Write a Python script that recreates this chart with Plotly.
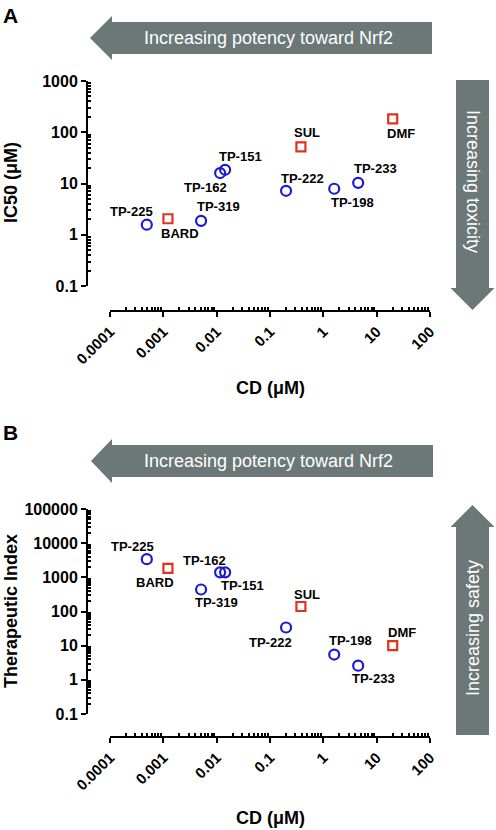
import math
import plotly.graph_objects as go

# ---------------- data ----------------
compounds_tp = ["TP-225", "TP-319", "TP-162", "TP-151", "TP-222", "TP-198", "TP-233"]
cd_tp = [0.00049, 0.0051, 0.0116, 0.0144, 0.20, 1.6, 4.5]
ic50_tp = [1.57, 1.87, 16.0, 18.5, 7.2, 7.9, 10.3]
ti_tp = [3400, 440, 1400, 1400, 34, 5.5, 2.6]

compounds_ref = ["BARD", "SUL", "DMF"]
cd_ref = [0.00122, 0.38, 20.0]
ic50_ref = [2.05, 52.0, 182.0]
ti_ref = [1830, 140, 10.0]

x_tickvals = [0.0001, 0.001, 0.01, 0.1, 1, 10, 100]
x_ticktext = ["0.0001", "0.001", "0.01", "0.1", "1", "10", "100"]
ya_tickvals = [0.1, 1, 10, 100, 1000]
ya_ticktext = ["0.1", "1", "10", "100", "1000"]
yb_tickvals = [0.1, 1, 10, 100, 1000, 10000, 100000]
yb_ticktext = ["0.1", "1", "10", "100", "1000", "10000", "100000"]

# label offsets (pixels) for each point label: (xshift, yshift)
offA_tp = [(-15, 13), (17, 14), (-15, -14), (15, 13), (16, 12), (18, -14), (17, 14)]
offA_ref = [(12, -15), (6, 14), (8, -15)]
offB_tp = [(-14, 13), (15, -13), (-16, 12), (17, -13), (-16, -15), (16, 14), (15, -13)]
offB_ref = [(-13, -14), (6, 12), (9, 13)]

# ---------------- style ----------------
W, H = 496, 830
FONT = "Liberation Sans, Arial, Helvetica, sans-serif"
BLUE = "#1b1bd2"
RED = "#e2311f"
GREY = "#6b7877"


def px(x):
    return x / W


def py(y):
    return 1 - y / H


def minor_vals(lo, hi):
    vals = []
    for e in range(lo, hi):
        for m in range(2, 10):
            vals.append(m * 10 ** e)
    return vals


fig = go.Figure()

marker_c = dict(symbol="circle-open", size=10, color=BLUE, line=dict(width=2.2, color=BLUE))
marker_s = dict(symbol="square-open", size=9, color=RED, line=dict(width=2.2, color=RED))

fig.add_trace(go.Scatter(x=cd_tp, y=ic50_tp, mode="markers", marker=marker_c,
                         xaxis="x", yaxis="y", showlegend=False))
fig.add_trace(go.Scatter(x=cd_ref, y=ic50_ref, mode="markers", marker=marker_s,
                         xaxis="x", yaxis="y", showlegend=False))
fig.add_trace(go.Scatter(x=cd_tp, y=ti_tp, mode="markers", marker=marker_c,
                         xaxis="x2", yaxis="y2", showlegend=False))
fig.add_trace(go.Scatter(x=cd_ref, y=ti_ref, mode="markers", marker=marker_s,
                         xaxis="x2", yaxis="y2", showlegend=False))

annotations = []


def add_labels(names, xs, ys, offs, xref, yref):
    for n, x, y, (dx, dy) in zip(names, xs, ys, offs):
        annotations.append(dict(text=n, x=math.log10(x), y=math.log10(y),
                                xref=xref, yref=yref, showarrow=False,
                                xanchor="center", yanchor="middle",
                                xshift=dx, yshift=dy,
                                font=dict(family=FONT, size=13, color="black", weight="bold")))


add_labels(compounds_tp, cd_tp, ic50_tp, offA_tp, "x", "y")
add_labels(compounds_ref, cd_ref, ic50_ref, offA_ref, "x", "y")
add_labels(compounds_tp, cd_tp, ti_tp, offB_tp, "x2", "y2")
add_labels(compounds_ref, cd_ref, ti_ref, offB_ref, "x2", "y2")

tickfont = dict(family=FONT, size=16, color="black", weight="bold")
xtickfont = dict(family=FONT, size=15, color="black", weight="bold")
titlefont = dict(family=FONT, size=18, color="black", weight="bold")

common_x = dict(type="log", range=[-4, 2], domain=[px(110), px(430)], automargin=False,
                showline=True, linecolor="black", linewidth=2, showgrid=False, zeroline=False,
                ticks="outside", ticklen=5, tickwidth=2, tickcolor="black",
                tickvals=x_tickvals, ticktext=x_ticktext, tickangle=-45, tickfont=xtickfont,
                minor=dict(tickvals=minor_vals(-4, 2), ticks="inside", ticklen=3, tickwidth=1.5,
                           tickcolor="black", showgrid=False),
                anchor="free")

common_y = dict(type="log", anchor="free", position=px(87), automargin=False,
                showline=True, linecolor="black", linewidth=2, showgrid=False, zeroline=False,
                ticks="outside", ticklen=5, tickwidth=2, tickcolor="black", tickfont=tickfont)

fig.update_layout(
    width=W, height=H, margin=dict(l=0, r=0, t=0, b=0, autoexpand=False),
    paper_bgcolor="white", plot_bgcolor="white",
    xaxis=dict(common_x, position=py(311)),
    xaxis2=dict(common_x, position=py(737)),
    yaxis=dict(common_y, range=[-1, 3], domain=[py(286), py(81)],
               tickvals=ya_tickvals, ticktext=ya_ticktext,
               minor=dict(tickvals=minor_vals(-1, 3), ticks="inside", ticklen=3, tickwidth=1.5,
                          tickcolor="black", showgrid=False)),
    yaxis2=dict(common_y, range=[-1, 5], domain=[py(714), py(509)],
                tickvals=yb_tickvals, ticktext=yb_ticktext,
                minor=dict(tickvals=minor_vals(-1, 5), ticks="inside", ticklen=3, tickwidth=1.5,
                           tickcolor="black", showgrid=False)),
)


def paper_text(text, x, y, font, angle=0, xanchor="center", yanchor="middle"):
    return dict(text=text, x=px(x), y=py(y), xref="paper", yref="paper", textangle=angle,
                xanchor=xanchor, yanchor=yanchor, showarrow=False, font=font)


letterfont = dict(family=FONT, size=21, color="black", weight="bold")
arrowfont = dict(family=FONT, size=18, color="white")

annotations += [
    paper_text("A", 1, 2, letterfont, xanchor="left", yanchor="top"),
    paper_text("B", 1, 419, letterfont, xanchor="left", yanchor="top"),
    paper_text("IC50 (μM)", 11, 183, titlefont, angle=-90),
    paper_text("Therapeutic Index", 11, 611, titlefont, angle=-90),
    paper_text("CD (μM)", 270, 388, titlefont),
    paper_text("CD (μM)", 270, 818, titlefont),
    paper_text("Increasing potency toward Nrf2", 268, 38, arrowfont),
    paper_text("Increasing potency toward Nrf2", 268, 461, arrowfont),
    paper_text("Increasing toxicity", 473, 181, arrowfont, angle=90),
    paper_text("Increasing safety", 473, 628, arrowfont, angle=-90),
]


def left_arrow(tip_x, head_x, right_x, cy, body_h, head_h):
    pts = [(tip_x, cy), (head_x, cy - head_h / 2), (head_x, cy - body_h / 2), (right_x, cy - body_h / 2),
           (right_x, cy + body_h / 2), (head_x, cy + body_h / 2), (head_x, cy + head_h / 2)]
    return "M " + " L ".join(f"{px(a):.5f},{py(b):.5f}" for a, b in pts) + " Z"


def vert_arrow(cx, far_y, head_y, tip_y, body_w, head_w):
    pts = [(cx - body_w / 2, far_y), (cx + body_w / 2, far_y), (cx + body_w / 2, head_y),
           (cx + head_w / 2, head_y), (cx, tip_y), (cx - head_w / 2, head_y), (cx - body_w / 2, head_y)]
    return "M " + " L ".join(f"{px(a):.5f},{py(b):.5f}" for a, b in pts) + " Z"


shapes = [
    dict(type="path", xref="paper", yref="paper", path=left_arrow(90, 112, 432, 38, 32, 44),
         fillcolor=GREY, line=dict(width=0), layer="below"),
    dict(type="path", xref="paper", yref="paper", path=left_arrow(91, 112, 433, 461, 32, 44),
         fillcolor=GREY, line=dict(width=0), layer="below"),
    dict(type="path", xref="paper", yref="paper", path=vert_arrow(472.5, 80, 288, 310, 33, 44),
         fillcolor=GREY, line=dict(width=0), layer="below"),
    dict(type="path", xref="paper", yref="paper", path=vert_arrow(472.5, 735, 527, 505, 33, 44),
         fillcolor=GREY, line=dict(width=0), layer="below"),
]

fig.update_layout(shapes=shapes, annotations=annotations)

fig.write_html("out.html", config={"displayModeBar": False},
               post_script="document.body.style.margin='0';document.body.style.padding='0';")
